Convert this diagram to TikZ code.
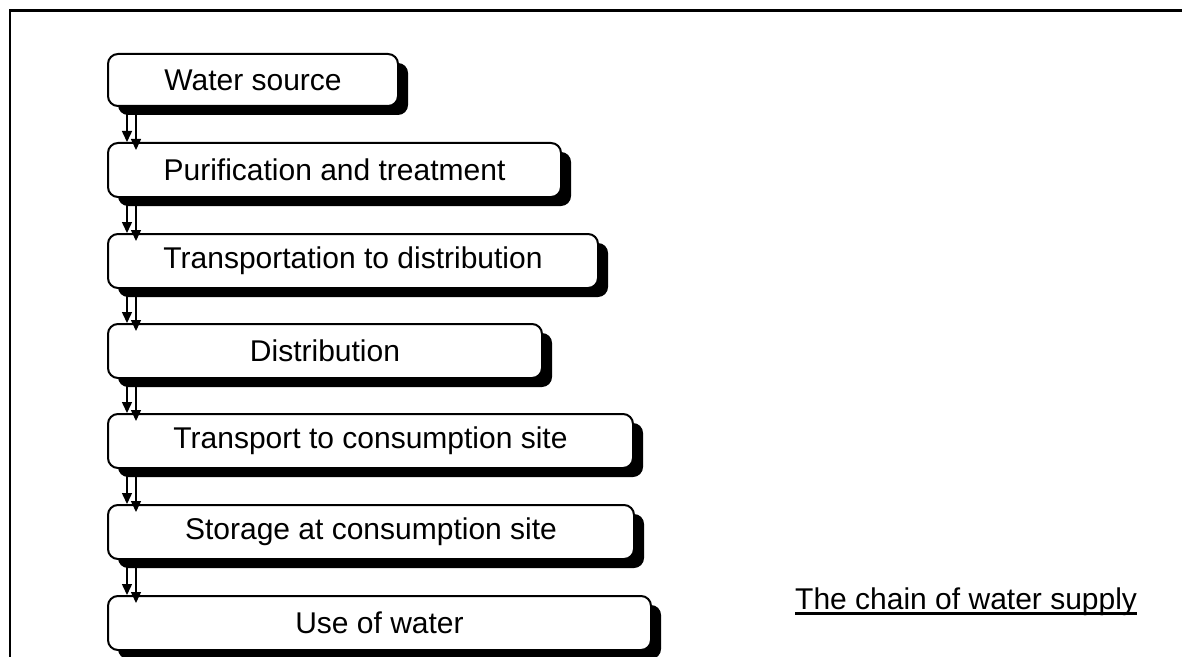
\documentclass[tikz,border=0pt]{standalone}
\usepackage{fontspec}
\setmainfont{Liberation Sans}
\usetikzlibrary{arrows.meta,shadows,calc}
\begin{document}
\begin{tikzpicture}[x=1bp,y=-1bp,
  stage/.style={draw, line width=2bp, rounded corners=10bp, fill=white,
    minimum height=54bp, inner sep=0pt, anchor=north west,
    font=\fontsize{30bp}{36bp}\selectfont,
    drop shadow={shadow xshift=10bp, shadow yshift=-9bp, fill=black, opacity=1}},
  flow/.style={line width=1.5bp, -{Triangle[width=10bp,length=11bp]}},
  flowshadow/.style={flow, transform canvas={xshift=9bp,yshift=-8bp}},
  frame/.style={line width=2.2bp},
  caption/.style={inner sep=0pt, anchor=base west, font=\fontsize{30bp}{36bp}\selectfont}]
\useasboundingbox (0,0) rectangle (1182,657);
\draw[frame] (10,657) -- (10,10.5) -- (1182,10.5);

\node[stage, minimum width=290bp, minimum height=52bp] (b1) at (107,53) {Water source};
\node[stage, minimum width=453bp] (b2) at (107,142) {Purification and treatment};
\node[stage, minimum width=490bp] (b3) at (107,233) {Transportation to distribution};
\node[stage, minimum width=434bp] (b4) at (107,323) {Distribution};
\node[stage, minimum width=525bp] (b5) at (107,413) {Transport to consumption site};
\node[stage, minimum width=526bp] (b6) at (107,504) {Storage at consumption site};
\node[stage, minimum width=543bp] (b7) at (107,595) {Use of water};

\foreach \a/\b in {b1/b2,b2/b3,b3/b4,b4/b5,b5/b6,b6/b7}{
  \draw[flow] ($(\a.south west)+(20,0)$) -- ($(\b.north west)+(20,0)$);
  \draw[flowshadow] ($(\a.south west)+(20,0)$) -- ($(\b.north west)+(20,0)$);
}

\node[caption] (cap) at (795,609) {The chain of water supply};
\draw[line width=2.5bp] ($(cap.base west)+(0,4.5)$) -- ($(cap.base east)+(0,4.5)$);
\end{tikzpicture}
\end{document}
